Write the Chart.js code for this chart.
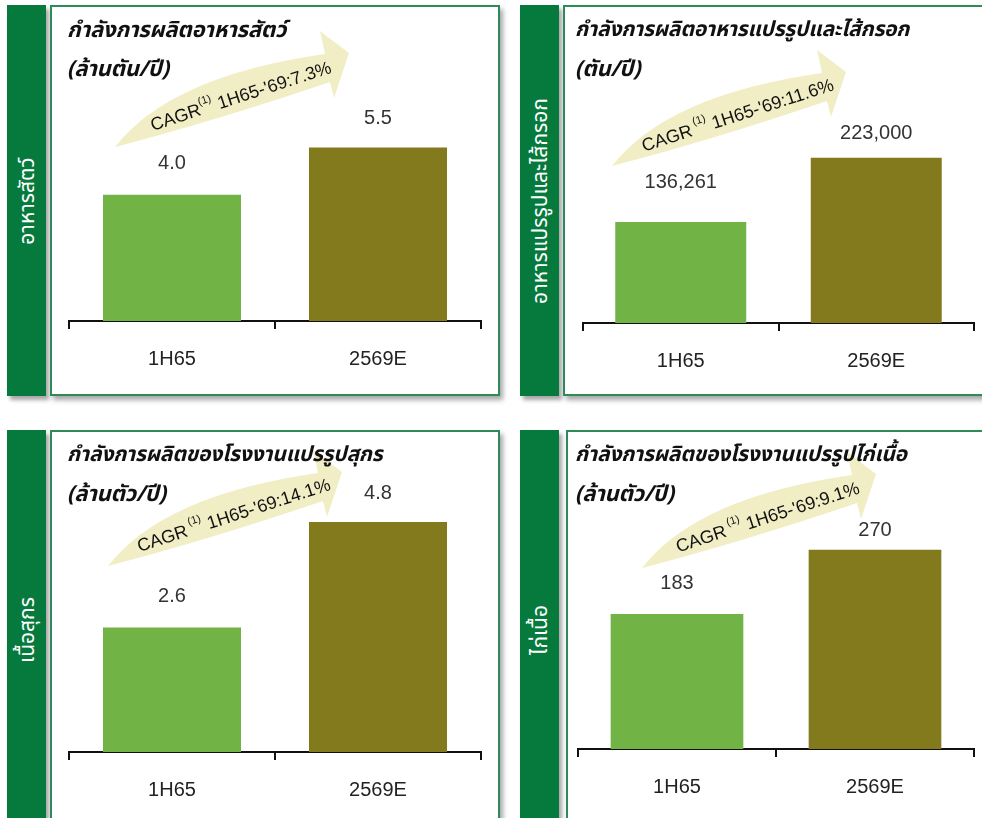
<!DOCTYPE html>
<html>
<head>
<meta charset="utf-8">
<script src="https://cdn.jsdelivr.net/npm/chart.js@4.4.1/dist/chart.umd.min.js"></script>
<style>
  body { margin: 0; width: 982px; height: 818px; background: #fff; overflow: hidden; position: relative;
         font-family: "Noto Sans Thai", "Noto Sans", "DejaVu Sans", sans-serif; }
  .tab { position: absolute; background: #06793d; box-shadow: 3px 4px 4px rgba(0,0,0,0.35); }
  .tab span { position: absolute; left: 50%; top: 50%; white-space: nowrap; color: #fff; font-size: 21px;
              transform: translate(-50%, -50%) rotate(-90deg); }
  .box { position: absolute; background: #fff; border: 2px solid #2e8b57; box-shadow: 3px 4px 5px rgba(0,0,0,0.35); }
  .box canvas { position: absolute; left: 0; top: 0; }
  .title { position: absolute; font-style: italic; font-weight: bold; font-size: 21px; color: #111; white-space: nowrap;
           letter-spacing: -0.2px; }
</style>
</head>
<body>
<script>
// categories and values for each panel
const categories = ['1H65', '2569E'];
const feedValues = [4.0, 5.5];
const processedValues = [136261, 223000];
const porkValues = [2.6, 4.8];
const chickenValues = [183, 270];

const panelTitles = ['กำลังการผลิตอาหารสัตว์', 'กำลังการผลิตอาหารแปรรูปและไส้กรอก',
                     'กำลังการผลิตของโรงงานแปรรูปสุกร', 'กำลังการผลิตของโรงงานแปรรูปไก่เนื้อ'];
const panelUnits = ['(ล้านตัน/ปี)', '(ตัน/ปี)', '(ล้านตัว/ปี)', '(ล้านตัว/ปี)'];
const tabLabels = ['อาหารสัตว์', 'อาหารแปรรูปและไส้กรอก', 'เนื้อสุกร', 'ไก่เนื้อ'];
const cagrRates = ['7.3%', '11.6%', '14.1%', '9.1%'];

const GREEN = '#71b345';
const OLIVE = '#837a1e';
const ARROW = '#f1eec5';

// layout of each panel (page px)
const panels = [
  { values: feedValues, fmt: v => v.toFixed(1), yMax: 8.11,
    tab: [7, 5, 39, 391], box: [50, 5, 450, 391], pad: [58, 17, 17, 23], titleX: 15, titleSize: 22,
    arrowAt: [63, 140], gaps: [31, 29] },
  { values: processedValues, fmt: v => v.toLocaleString('en-US'), yMax: 348000,
    tab: [520, 5, 39, 391], box: [563, 5, 430, 391], pad: [58, 18, 17, 21], titleX: 10, titleSize: 21,
    arrowAt: [47, 159], gaps: [39, 24] },
  { values: porkValues, fmt: v => v.toFixed(1), yMax: 5.47,
    tab: [7, 430, 39, 400], box: [50, 430, 450, 400], pad: [58, 17, 17, 26], titleX: 15, titleSize: 21,
    arrowAt: [56, 134], gaps: [31, 29] },
  { values: chickenValues, fmt: v => String(v), yMax: 351,
    tab: [520, 430, 39, 400], box: [566, 430, 430, 400], pad: [58, 10, 20, 29], titleX: 7, titleSize: 21,
    arrowAt: [74, 136], gaps: [30, 19] }
];

// curved arrow outline, relative to its tail
function drawArrow(ctx, x, y) {
  ctx.save();
  ctx.translate(x, y);
  ctx.beginPath();
  ctx.moveTo(0, 0);
  ctx.quadraticCurveTo(55, -71, 210, -93);
  ctx.lineTo(205, -116);
  ctx.lineTo(234, -94);
  ctx.lineTo(219, -49);
  ctx.lineTo(215, -65);
  ctx.quadraticCurveTo(100, -26, 0, 0);
  ctx.closePath();
  ctx.fillStyle = ARROW;
  ctx.fill();
  ctx.restore();
}

function drawCagr(ctx, x, y, rate, gap) {
  const big = '18px "Liberation Sans", Arial, sans-serif';
  const small = '11px "Liberation Sans", Arial, sans-serif';
  const parts = [['CAGR', big, 0], [(gap ? ' ' : '') + '(1)', small, -8], [' 1H65-\'69:' + rate, big, 0]];
  ctx.save();
  ctx.translate(x + 126, y - 50);
  ctx.rotate(-18 * Math.PI / 180);
  ctx.fillStyle = '#111';
  ctx.textBaseline = 'middle';
  let total = 0;
  parts.forEach(p => { ctx.font = p[1]; total += ctx.measureText(p[0]).width; });
  let cx = -total / 2;
  parts.forEach(p => {
    ctx.font = p[1];
    ctx.fillText(p[0], cx, p[2]);
    cx += ctx.measureText(p[0]).width;
  });
  ctx.restore();
}

panels.forEach((p, idx) => {
  const tab = document.createElement('div');
  tab.className = 'tab';
  Object.assign(tab.style, { left: p.tab[0] + 'px', top: p.tab[1] + 'px', width: p.tab[2] + 'px', height: p.tab[3] + 'px' });
  const tabText = document.createElement('span');
  tabText.textContent = tabLabels[idx];
  tab.appendChild(tabText);
  document.body.appendChild(tab);

  const box = document.createElement('div');
  box.className = 'box';
  const bw = p.box[2] - 4, bh = p.box[3] - 4;
  Object.assign(box.style, { left: p.box[0] + 'px', top: p.box[1] + 'px', width: bw + 'px', height: bh + 'px' });
  const canvas = document.createElement('canvas');
  canvas.width = bw; canvas.height = bh;
  canvas.style.width = bw + 'px'; canvas.style.height = bh + 'px';
  box.appendChild(canvas);

  const title = document.createElement('div');
  title.className = 'title';
  title.style.left = p.titleX + 'px'; title.style.top = '7px';
  title.style.fontSize = p.titleSize + 'px';
  title.textContent = panelTitles[idx];
  box.appendChild(title);
  const unit = document.createElement('div');
  unit.className = 'title';
  unit.style.left = p.titleX + 'px'; unit.style.top = '46px';
  unit.style.fontSize = '22px';
  unit.textContent = panelUnits[idx];
  box.appendChild(unit);
  document.body.appendChild(box);

  new Chart(canvas.getContext('2d'), {
    type: 'bar',
    data: {
      labels: categories,
      datasets: [{
        data: p.values,
        backgroundColor: [GREEN, OLIVE],
        borderWidth: 0,
        barPercentage: 0.67,
        categoryPercentage: 1
      }]
    },
    options: {
      responsive: false,
      animation: false,
      events: [],
      layout: { padding: { top: p.pad[0], left: p.pad[1], right: p.pad[2], bottom: p.pad[3] } },
      plugins: { legend: { display: false }, tooltip: { enabled: false } },
      scales: {
        x: {
          offset: true,
          grid: { offset: true, drawOnChartArea: false, drawTicks: true, tickLength: 8, color: '#111', lineWidth: 2 },
          border: { display: true, color: '#111', width: 2 },
          ticks: { padding: 18, color: '#222', font: { size: 20, family: '"Liberation Sans", Arial, sans-serif' } },
          afterFit: s => { s.height = 50; }
        },
        y: { display: false, min: 0, max: p.yMax }
      }
    },
    plugins: [{
      id: 'decor',
      beforeDatasetsDraw(chart) {
        drawArrow(chart.ctx, p.arrowAt[0], p.arrowAt[1]);
        drawCagr(chart.ctx, p.arrowAt[0], p.arrowAt[1], cagrRates[idx], idx > 0);
      },
      afterDatasetsDraw(chart) {
        const ctx = chart.ctx;
        ctx.save();
        ctx.font = '20px "Liberation Sans", Arial, sans-serif';
        ctx.fillStyle = '#333';
        ctx.textAlign = 'center';
        ctx.textBaseline = 'middle';
        chart.getDatasetMeta(0).data.forEach((bar, i) => {
          ctx.fillText(p.fmt(p.values[i]), bar.x, bar.y - p.gaps[i]);
        });
        ctx.restore();
      }
    }]
  });
});
</script>
</body>
</html>
